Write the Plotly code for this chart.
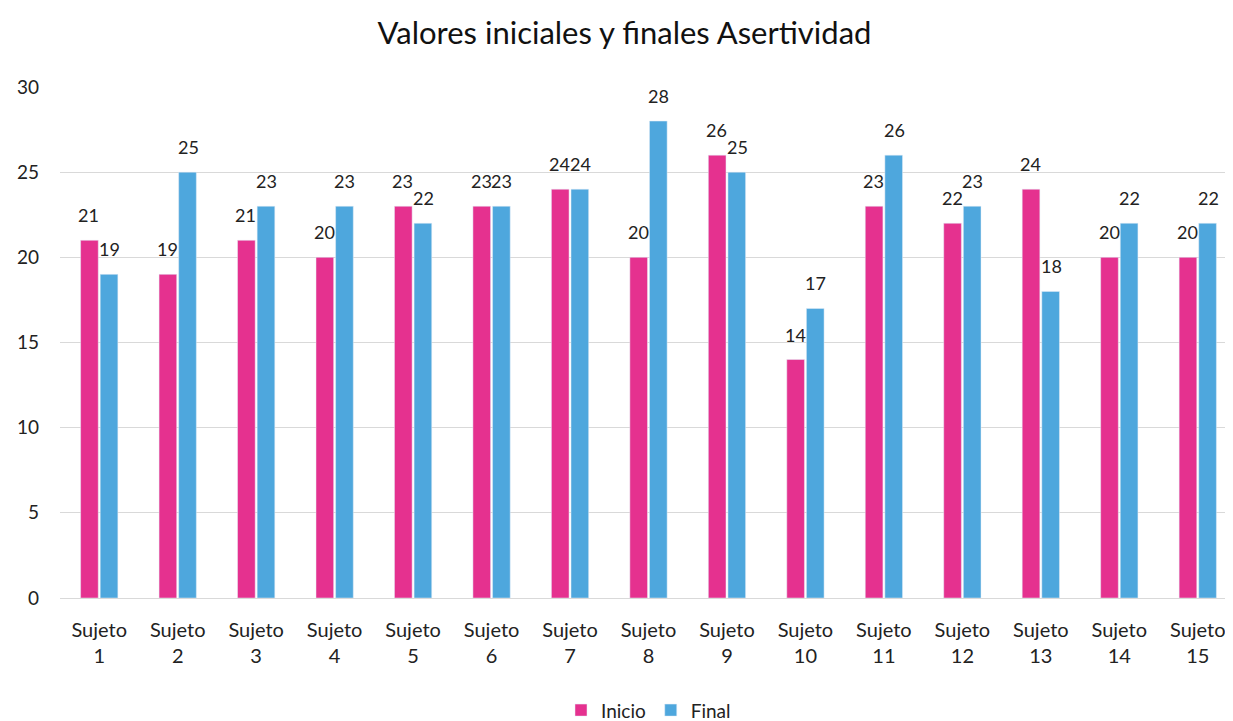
import plotly.graph_objects as go

categories = [f"Sujeto<br>{i}" for i in range(1, 16)]
inicio = [21, 19, 21, 20, 23, 23, 24, 20, 26, 14, 23, 22, 24, 20, 20]
final = [19, 25, 23, 23, 22, 23, 24, 28, 25, 17, 26, 23, 18, 22, 22]

font_family = "Lato, Open Sans, sans-serif"

fig = go.Figure()
fig.add_trace(go.Bar(x=categories, y=inicio, name="Inicio", marker_color="#E5318F"))
fig.add_trace(go.Bar(x=categories, y=final, name="Final", marker_color="#4EA7DD"))

# data labels, one per bar, from the arrays
for series, shift in ((inicio, -10.3), (final, 10.3)):
    for cat, val in zip(categories, series):
        fig.add_annotation(x=cat, y=val, text=str(val), showarrow=False,
                           xanchor="center", yanchor="bottom", xshift=shift, yshift=12,
                           font=dict(size=18, color="#222"))

fig.update_layout(
    width=1233, height=721,
    font=dict(family=font_family, size=19, color="#222"),
    title=dict(text="Valores iniciales y finales Asertividad", x=0.5, xanchor="center",
               y=0.965, yanchor="middle", font=dict(size=31, color="#111")),
    plot_bgcolor="white", paper_bgcolor="white",
    barmode="group", bargap=0.5, bargroupgap=0.1,
    margin=dict(l=52, r=4, t=79, b=131),
    legend=dict(orientation="h", x=0.5, xanchor="center", yref="container",
                y=0.026, yanchor="middle", font=dict(size=19)),
    yaxis=dict(range=[0, 30], dtick=5, showgrid=True, gridcolor="#D9D9D9", gridwidth=1,
               zeroline=False, showline=False, ticks="", ticklabelstandoff=20,
               automargin=False),
    xaxis=dict(showline=True, linecolor="#D9D9D9", linewidth=1, ticks="",
               tickangle=0, automargin=False, ticklabelstandoff=14,
               tickfont=dict(size=20)),
)

fig.write_html("out.html")
